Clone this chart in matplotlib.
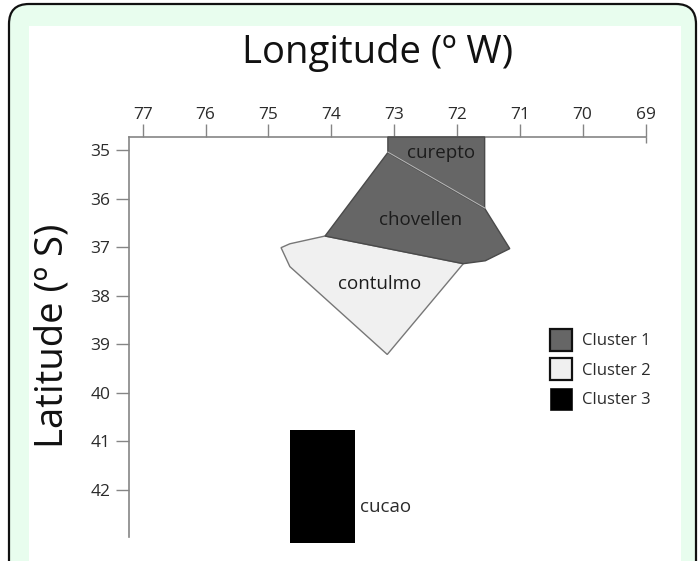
#!/usr/bin/env python3
"""Cluster map of sampling regions, longitude / latitude."""
import matplotlib

matplotlib.use("Agg")
import matplotlib.pyplot as plt
from matplotlib.patches import FancyBboxPatch, Patch, Polygon, Rectangle

plt.rcParams["font.family"] = ["Open Sans", "DejaVu Sans"]

W, H = 699, 561

lon_ticks = [77, 76, 75, 74, 73, 72, 71, 70, 69]
lat_ticks = [35, 36, 37, 38, 39, 40, 41, 42]

curepto_lon = [73.10, 71.56, 71.56, 73.10]
curepto_lat = [34.73, 34.73, 36.19, 35.04]

chovellen_lon = [73.10, 71.56, 71.16, 71.55, 71.90, 74.10]
chovellen_lat = [35.05, 36.20, 37.03, 37.28, 37.34, 36.77]

contulmo_lon = [74.10, 74.66, 74.80, 74.66, 73.11, 71.90]
contulmo_lat = [36.77, 36.93, 37.01, 37.40, 39.21, 37.34]

cucao_lon = [74.66, 73.62]
cucao_lat = [40.77, 43.09]

legend_names = ["Cluster 1", "Cluster 2", "Cluster 3"]
C1, C2, C3 = "#666666", "#f0f0f0", "#000000"
INK = "#2b2b2b"
AXIS = "#858585"

fig = plt.figure(figsize=(W / 100, H / 100), dpi=100, facecolor="white")

# page frame behind the chart, in pixel coordinates
bg = fig.add_axes([0, 0, 1, 1], zorder=0)
bg.set_xlim(0, W)
bg.set_ylim(H, 0)
bg.axis("off")
bg.add_patch(FancyBboxPatch((9, 4), 687, 640, boxstyle="round,pad=0,rounding_size=20",
                            fc="#e8fdee", ec="#111111", lw=1.6))
bg.add_patch(Rectangle((29, 26), 652, 560, fc="white", ec="none"))

left, right, top, bottom = 129, 645.5, 136.5, 537
ax = fig.add_axes([left / W, 1 - bottom / H, (right - left) / W, (bottom - top) / H], zorder=1)
ax.patch.set_alpha(0)
ax.set_xlim(77.22, 69)
ax.set_ylim(42.97, 34.72)

for lons, lats, colour, edge in [(contulmo_lon, contulmo_lat, C2, "#777777"),
                                 (chovellen_lon, chovellen_lat, C1, "#4a4a4a"),
                                 (curepto_lon, curepto_lat, C1, "#4a4a4a")]:
    ax.add_patch(Polygon(list(zip(lons, lats)), closed=True, fc=colour, ec=edge, lw=1.0,
                         zorder=3, clip_on=False))
ax.plot([curepto_lon[3], curepto_lon[2]], [curepto_lat[3], curepto_lat[2]],
        color="#b5b5b5", lw=0.8, zorder=4)
ax.add_patch(Rectangle((cucao_lon[0], cucao_lat[0]), cucao_lon[1] - cucao_lon[0],
                       cucao_lat[1] - cucao_lat[0], fc=C3, ec="none", zorder=3, clip_on=False))

ax.text(72.25, 35.05, "curepto", fontsize=13.5, color="#1c1c1c", ha="center", va="center", zorder=5)
ax.text(72.58, 36.44, "chovellen", fontsize=13.5, color="#1c1c1c", ha="center", va="center", zorder=5)
ax.text(73.23, 37.76, "contulmo", fontsize=13.5, color="#1c1c1c", ha="center", va="center", zorder=5)
ax.text(73.55, 42.35, "cucao", fontsize=13.5, color=INK, ha="left", va="center", zorder=5)

ax.xaxis.tick_top()
ax.set_xticks(lon_ticks)
ax.set_yticks(lat_ticks)
ax.tick_params(axis="both", length=9.5, width=1, color=AXIS, labelcolor=INK, labelsize=12.5)
ax.tick_params(axis="x", pad=0)
ax.tick_params(axis="y", pad=4)
ax.vlines(69, 34.72, 34.86, color=AXIS, lw=1, clip_on=False)
for side in ["right", "bottom"]:
    ax.spines[side].set_visible(False)
for side in ["top", "left"]:
    ax.spines[side].set_color(AXIS)
    ax.spines[side].set_linewidth(1.2)

handles = [Patch(fc=C1, ec="#111111", lw=1.6), Patch(fc=C2, ec="#111111", lw=1.6),
           Patch(fc=C3, ec="#111111", lw=0.5)]
ax.legend(handles, legend_names, frameon=False, fontsize=12, labelcolor=INK,
          loc="upper left", bbox_to_anchor=((550 - left) / (right - left), 1 - (329 - top) / (bottom - top)),
          borderpad=0, borderaxespad=0, handlelength=1.3, handleheight=1.65,
          handletextpad=0.65, labelspacing=0.45)

fig.text(378 / W, 1 - 53 / H, "Longitude (º W)", fontsize=27.5, color="#111111", ha="center", va="center")
fig.text(52 / W, 1 - 336 / H, "Latitude (º S)", fontsize=27.5, color="#111111", rotation=90,
         ha="center", va="center")

fig.savefig("out.png", dpi=100)
